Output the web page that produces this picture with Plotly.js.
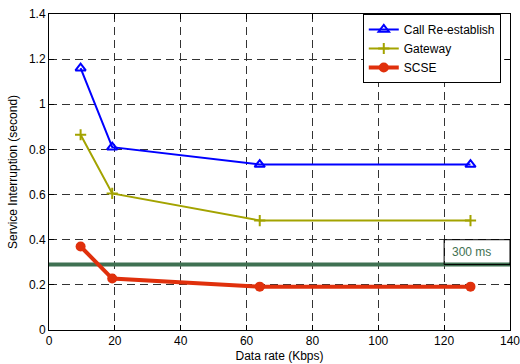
<!DOCTYPE html>
<html><head><meta charset="utf-8">
<script src="https://cdn.plot.ly/plotly-3.0.1.min.js"></script>
<style>html,body{margin:0;padding:0;background:#fff}#chart{width:520px;height:364px}</style>
</head><body><div id="chart"></div>
<script>
const dataRate = [9.6, 19.2, 64, 128];
const callReestablish = [1.16, 0.81, 0.733, 0.733];
const gateway = [0.865, 0.605, 0.485, 0.485];
const scse = [0.37, 0.228, 0.192, 0.192];
const thresholdX = [0, 140];
const thresholdY = [0.29, 0.29];
const thresholdLabel = "300 ms";
const xTicks = [0, 20, 40, 60, 80, 100, 120, 140];
const yTicks = [0, 0.2, 0.4, 0.6, 0.8, 1, 1.2, 1.4];
const yTickText = ["0", "0.2", "0.4", "0.6", "0.8", "1", "1.2", "1.4"];

const font = {family: "Liberation Sans, Arial, sans-serif", size: 12, color: "#000"};
const traces = [
  {x: thresholdX, y: thresholdY, mode: "lines", line: {color: "#3f7152", width: 4}, showlegend: false, hoverinfo: "skip"},
  {x: dataRate, y: callReestablish, name: "Call Re-establish", mode: "lines+markers",
   line: {color: "#0000ff", width: 2}, marker: {symbol: "triangle-up-open", size: 9, color: "#0000ff", line: {width: 2}}},
  {x: dataRate, y: gateway, name: "Gateway", mode: "lines+markers",
   line: {color: "#a3a300", width: 2}, marker: {symbol: "cross-thin-open", size: 8, color: "#a3a300", line: {width: 2, color: "#a3a300"}}},
  {x: dataRate, y: scse, name: "SCSE", mode: "lines+markers",
   line: {color: "#e0300c", width: 4}, marker: {symbol: "circle", size: 10, color: "#e0300c"}}
];
const axisCommon = {
  showline: true, mirror: "ticks", linecolor: "#000", linewidth: 1,
  ticks: "inside", ticklen: 5, tickcolor: "#000",
  showgrid: true, gridcolor: "#333", griddash: "8px,5px", gridwidth: 1,
  zeroline: false, ticklabeloverflow: "allow",
  tickfont: {family: font.family, size: 12, color: "#000"}
};
const layout = {
  width: 520, height: 364,
  margin: {l: 49, r: 10, t: 14, b: 34},
  paper_bgcolor: "#fff", plot_bgcolor: "#fff",
  font: font,
  xaxis: Object.assign({}, axisCommon, {range: [0, 140], tickvals: xTicks,
    title: {text: "Data rate (Kbps)", font: {family: font.family, size: 12}, standoff: 4}}),
  yaxis: Object.assign({}, axisCommon, {range: [0, 1.4], tickvals: yTicks, ticktext: yTickText,
    title: {text: "Service Interruption (second)", font: {family: font.family, size: 12}, standoff: 8}}),
  legend: {x: 0.98, xanchor: "right", y: 1, yanchor: "top", bgcolor: "#fff",
    bordercolor: "#000", borderwidth: 1, font: {family: font.family, size: 12}, tracegroupgap: 0,
    itemwidth: 30},
  shapes: [{type: "rect", xref: "x", yref: "y", x0: 120, x1: 140, y0: thresholdY[0], y1: 0.4,
    line: {color: "#000", width: 1}, fillcolor: "rgba(0,0,0,0)", layer: "above"}],
  annotations: [{xref: "x", yref: "y", x: 128.3, y: 0.345, text: thresholdLabel, showarrow: false,
    font: {family: font.family, size: 12, color: "#3f7152"}}]
};
Plotly.newPlot("chart", traces, layout, {displayModeBar: false, staticPlot: true});
</script></body></html>
